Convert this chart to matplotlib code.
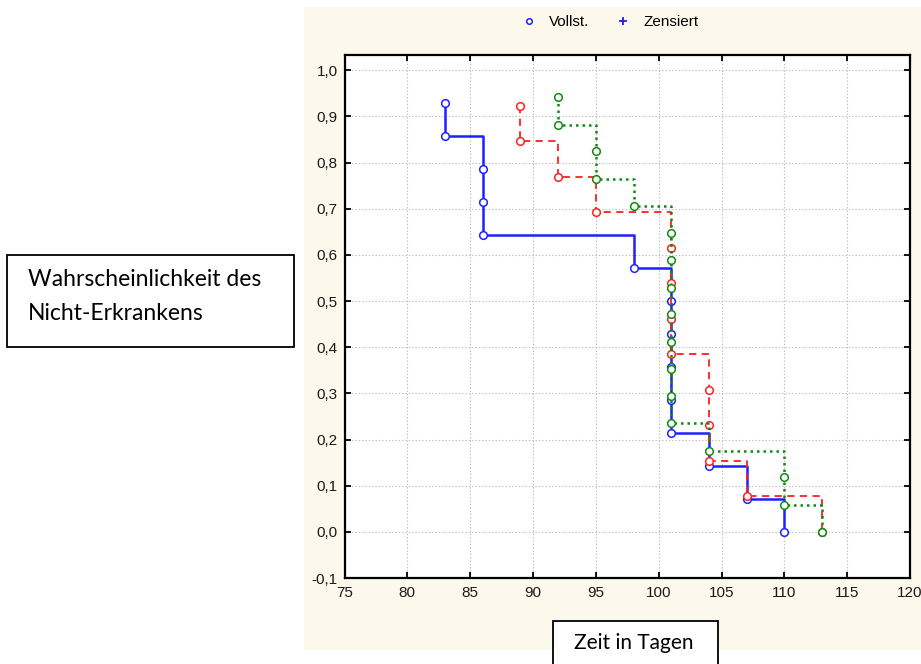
import matplotlib
matplotlib.use("Agg")
import matplotlib.pyplot as plt
from matplotlib.lines import Line2D
from matplotlib.patches import Rectangle

# Event times and survival estimates per group
blue_times = [83, 83, 86, 86, 86, 98, 101, 101, 101, 101, 101, 104, 107, 110]
blue_surv = [0.929, 0.857, 0.786, 0.714, 0.643, 0.571, 0.500, 0.429, 0.357,
             0.286, 0.214, 0.143, 0.071, 0.000]

red_times = [89, 89, 92, 95, 101, 101, 101, 101, 104, 104, 104, 107, 113]
red_surv = [0.923, 0.846, 0.769, 0.692, 0.615, 0.538, 0.462, 0.385,
            0.308, 0.231, 0.154, 0.077, 0.000]

green_times = [92, 92, 95, 95, 98, 101, 101, 101, 101, 101, 101, 101, 101,
               104, 110, 110, 113]
green_surv = [0.941, 0.882, 0.824, 0.765, 0.706, 0.647, 0.588, 0.529, 0.471,
              0.412, 0.353, 0.294, 0.235, 0.176, 0.118, 0.059, 0.000]

x_ticks = [75, 80, 85, 90, 95, 100, 105, 110, 115, 120]
y_ticks = [-0.1, 0.0, 0.1, 0.2, 0.3, 0.4, 0.5, 0.6, 0.7, 0.8, 0.9, 1.0]
y_tick_labels = ["-0,1", "0,0", "0,1", "0,2", "0,3", "0,4", "0,5", "0,6",
                 "0,7", "0,8", "0,9", "1,0"]

W, H = 921, 664
fig = plt.figure(figsize=(W / 100, H / 100), dpi=100)
fig.patch.set_facecolor("white")

def fx(px):
    return px / W

def fy(py):
    return 1 - py / H

# cream chart panel behind the axes
fig.patches.append(Rectangle((fx(304), fy(650)), fx(921) - fx(304), fy(7) - fy(650),
                             transform=fig.transFigure, facecolor="#fdf8ec",
                             edgecolor="none", zorder=-5))

ax = fig.add_axes([fx(344.5), fy(578), fx(910) - fx(344.5), fy(55.4) - fy(578)])
ax.set_facecolor("white")
ax.set_xlim(75, 120)
ax.set_ylim(-0.1, 1.032)

ax.set_xticks(x_ticks)
ax.set_xticklabels([str(t) for t in x_ticks])
ax.set_yticks(y_ticks)
ax.set_yticklabels(y_tick_labels)
ax.grid(True, color="#bcbcbc", linestyle=(0, (1.2, 1.8)), linewidth=0.8)
ax.set_axisbelow(True)

for s in ax.spines.values():
    s.set_linewidth(1.6)
    s.set_color("black")
ax.tick_params(direction="in", length=4, width=1.3, top=True, right=True,
               labelsize=11, colors="black")
ax.tick_params(axis="x", pad=6)
ax.tick_params(axis="y", pad=5)
for lab in ax.get_xticklabels() + ax.get_yticklabels():
    lab.set_family("Liberation Sans")
    lab.set_color("#1a1a1a")

mk = dict(marker="o", markersize=5.5, markerfacecolor="white", markeredgewidth=1.1)
ax.plot(blue_times, blue_surv, drawstyle="steps-post", color="#1f1fff",
        linewidth=1.8, markeredgecolor="#1f1fff", zorder=3, **mk)
ax.plot(red_times, red_surv, drawstyle="steps-post", color="#ff2020",
        linewidth=1.3, linestyle=(0, (4, 3)), markeredgecolor="#ff2020",
        zorder=4, **mk)
ax.plot(green_times, green_surv, drawstyle="steps-post", color="#108a10",
        linewidth=1.8, linestyle=(0, (1, 1.6)), markeredgecolor="#108a10",
        zorder=5, **mk)

# legend at the top of the panel
handles = [
    Line2D([], [], linestyle="none", marker="o", markersize=4, markerfacecolor="white",
           markeredgecolor="#1f1fff", markeredgewidth=1.1, label="Vollst."),
    Line2D([], [], linestyle="none", marker="+", markersize=6,
           markeredgecolor="#1f1fff", markeredgewidth=1.3, label="Zensiert"),
]
leg = fig.legend(handles=handles, loc="center", bbox_to_anchor=(fx(610), fy(22)),
                 ncol=2, frameon=False, handlelength=1.0, handletextpad=0.8,
                 columnspacing=1.7, prop={"family": "Liberation Sans", "size": 11})

# axis title boxes
fig.patches.append(Rectangle((fx(7), fy(347)), fx(294) - fx(7), fy(255) - fy(347),
                             transform=fig.transFigure, facecolor="white",
                             edgecolor="black", linewidth=1.3, zorder=5))
fig.text(fx(28), fy(280), "Wahrscheinlichkeit des", ha="left", va="center",
         fontsize=16.5, family="Lato", zorder=6)
fig.text(fx(28), fy(313), "Nicht-Erkrankens", ha="left", va="center",
         fontsize=16.5, family="Lato", zorder=6)

fig.patches.append(Rectangle((fx(553), fy(670)), fx(718) - fx(553), fy(621) - fy(670),
                             transform=fig.transFigure, facecolor="white",
                             edgecolor="black", linewidth=1.3, zorder=5))
fig.text(fx(634), fy(643), "Zeit in Tagen", ha="center", va="center",
         fontsize=15, family="Lato", zorder=6)

fig.savefig("out.png", dpi=100)
